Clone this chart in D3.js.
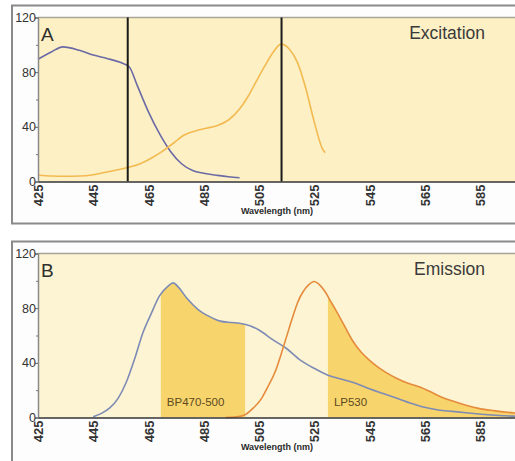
<!DOCTYPE html>
<html>
<head>
<meta charset="utf-8">
<title>Excitation / Emission</title>
<style>
  html, body { margin: 0; padding: 0; background: #fff; }
  svg { display: block; font-family: "Liberation Sans", Arial, sans-serif; }
</style>
</head>
<body>
<svg id="chart" width="515" height="461"></svg>
<script src="https://cdn.jsdelivr.net/npm/d3@7"></script>
<script>
// spectra (wavelength nm, relative intensity)
const excBlueWl  = [425, 430, 434, 440, 445, 450, 455, 458, 461, 465, 469, 473, 477, 481, 485, 490, 494, 498];
const excBlueVal = [89.5, 95, 98.5, 96, 92.5, 90, 87, 84, 70, 51, 35, 22, 13, 8, 6, 4.5, 3.5, 2.8];

const excOrangeWl  = [425, 430, 435, 440, 445, 450, 457, 462, 466, 470, 474, 478, 482, 486, 490, 494, 498, 501, 504, 507, 510, 513, 516, 519, 522, 525, 528, 529];
const excOrangeVal = [4.8, 4, 3.8, 4, 5, 7, 10, 13, 17, 22, 28, 34, 37, 39, 41, 45, 53, 62, 73, 84, 94, 100.5, 97, 87, 68, 44, 24, 21];

const emBlueWl  = [445, 448, 451, 454, 457, 460, 463, 466, 469, 472, 474, 476, 479, 483, 487, 491, 495, 498, 502, 505, 510, 515, 520, 525, 530, 535, 540, 545, 550, 555, 560, 565, 570, 575, 580, 588, 597, 605];
const emBlueVal = [0.5, 3, 7, 14, 26, 43, 62, 76, 89, 96, 98.5, 95, 87, 79, 74, 70.5, 69.5, 69, 67, 64, 57, 50.5, 42, 36, 31, 28, 25, 21, 17.5, 14, 10.5, 7.5, 5.5, 4.5, 3.5, 2, 1, 0.7];

const emOrangeWl  = [493, 497, 500, 503, 506, 508, 511, 513, 515, 517, 519, 521, 523, 525, 527, 529, 531, 533, 536, 539, 542, 545, 548, 551, 555, 559, 563, 567, 571, 576, 580, 585, 590, 595, 600, 605];
const emOrangeVal = [0, 0.5, 2, 7, 14, 21.5, 34, 46, 59, 72, 84, 92, 97, 99.5, 97, 92, 85, 78, 67, 56, 48, 42, 37, 33, 28.5, 25, 22.5, 19, 15, 11.5, 9, 6.5, 5, 3.8, 3, 2.5];

const excLines = [457.5, 513.2];          // laser / filter lines in A
const bandPass = [469.5, 500];            // BP470-500
const longPass = 530;                     // LP530

const xTicks = [425, 445, 465, 485, 505, 525, 545, 565, 585];
const yTicks = [0, 40, 80, 120];
const yMinor = [20, 60, 100];

const zip = (w, v) => w.map((d, i) => ({ wl: d, v: v[i] }));

const svg = d3.select("#chart");

function panel(top, opts) {
  const left = 38, width = 497, height = 164;
  const x = d3.scaleLinear().domain([425, 605]).range([left, left + width]);
  const y = d3.scaleLinear().domain([0, 120]).range([top + height, top]);
  const uid = opts.letter;

  // outer frame
  svg.append("rect")
    .attr("x", 12).attr("y", top - 12)
    .attr("width", 540).attr("height", opts.frameH)
    .attr("fill", "#fdfdfd")
    .attr("stroke", "#8a8a8a").attr("stroke-width", 2);

  // plot background
  svg.append("rect")
    .attr("x", left).attr("y", top)
    .attr("width", width).attr("height", height)
    .attr("fill", opts.bg);
  svg.append("line")
    .attr("x1", left).attr("x2", left + width)
    .attr("y1", top).attr("y2", top)
    .attr("stroke", "#a8a499").attr("stroke-width", 1.5);

  const g = svg.append("g");
  const defs = svg.append("defs");

  const line = d3.line().x(d => x(d.wl)).y(d => y(d.v)).curve(d3.curveMonotoneX);
  const area = d3.area().x(d => x(d.wl)).y0(y(0)).y1(d => y(d.v)).curve(d3.curveMonotoneX);

  (opts.fills || []).forEach((f, i) => {
    const id = "clip" + uid + i;
    defs.append("clipPath").attr("id", id)
      .append("rect")
      .attr("x", x(f.from)).attr("y", top)
      .attr("width", x(f.to) - x(f.from)).attr("height", height);
    g.append("path")
      .datum(f.data)
      .attr("d", area)
      .attr("fill", "#f8d46c")
      .attr("clip-path", `url(#${id})`);
    g.append("text")
      .attr("x", x(f.from) + 6).attr("y", y(0) - 12)
      .attr("font-size", 11.5)
      .attr("fill", "#5b4b1e")
      .text(f.label);
  });

  opts.series.forEach(s => {
    g.append("path")
      .datum(s.data)
      .attr("d", line)
      .attr("fill", "none")
      .attr("stroke", s.color)
      .attr("stroke-width", 1.6);
  });

  (opts.vlines || []).forEach(wl => {
    g.append("line")
      .attr("x1", x(wl)).attr("x2", x(wl))
      .attr("y1", top).attr("y2", y(0))
      .attr("stroke", "#1a1a1a").attr("stroke-width", 2);
  });

  // y axis
  const yAxis = svg.append("g")
    .attr("transform", `translate(${left},0)`)
    .call(d3.axisLeft(y).tickValues(yTicks).tickSize(3).tickFormat(d3.format("d")));
  yAxis.select(".domain").attr("stroke", "#8a8a8a").attr("stroke-width", 1.5);
  yAxis.selectAll(".tick line").attr("stroke", "#666");
  yAxis.selectAll("text")
    .attr("x", -2)
    .attr("font-size", 12.5)
    .attr("font-family", "Liberation Sans, Arial, sans-serif")
    .attr("fill", "#333");
  svg.append("g")
    .attr("transform", `translate(${left},0)`)
    .call(d3.axisLeft(y).tickValues(yMinor).tickSize(2).tickFormat(""))
    .call(a => a.select(".domain").remove())
    .selectAll("line").attr("stroke", "#777");

  // x axis
  const xAxis = svg.append("g")
    .attr("transform", `translate(0,${y(0)})`)
    .call(d3.axisBottom(x).tickValues(xTicks).tickSize(0).tickFormat(d3.format("d")));
  xAxis.select(".domain").attr("stroke", "#333").attr("stroke-width", 1.5);
  xAxis.selectAll("text")
    .attr("transform", "rotate(-90)")
    .attr("x", -3).attr("y", 0).attr("dy", "0.36em")
    .attr("text-anchor", "end")
    .attr("font-size", 13)
    .attr("font-weight", "bold")
    .attr("font-family", "Liberation Sans, Arial, sans-serif")
    .attr("fill", "#333");

  svg.append("text")
    .attr("x", 277).attr("y", top + 196.5)
    .attr("text-anchor", "middle")
    .attr("font-size", 9)
    .attr("font-weight", "bold")
    .attr("fill", "#2a2a2a")
    .text("Wavelength (nm)");

  svg.append("text")
    .attr("x", 41).attr("y", top + 23)
    .attr("font-size", 19)
    .attr("fill", "#2e2e2e")
    .text(opts.letter);
  svg.append("text")
    .attr("x", 485).attr("y", top + 21)
    .attr("text-anchor", "end")
    .attr("font-size", 17.5)
    .attr("fill", "#3a3a3a")
    .text(opts.title);
}

panel(17.5, {
  letter: "A", title: "Excitation", bg: "#fcf0c4", frameH: 218,
  series: [
    { data: zip(excBlueWl, excBlueVal), color: "#6b6aa6" },
    { data: zip(excOrangeWl, excOrangeVal), color: "#f4ba52" }
  ],
  vlines: excLines
});

panel(253.5, {
  letter: "B", title: "Emission", bg: "#fdf4d3", frameH: 240,
  fills: [
    { data: zip(emBlueWl, emBlueVal), from: bandPass[0], to: bandPass[1], label: "BP470-500" },
    { data: zip(emOrangeWl, emOrangeVal), from: longPass, to: 605, label: "LP530" }
  ],
  series: [
    { data: zip(emBlueWl, emBlueVal), color: "#7d8bb5" },
    { data: zip(emOrangeWl, emOrangeVal), color: "#e58b3c" }
  ]
});
</script>
</body>
</html>
